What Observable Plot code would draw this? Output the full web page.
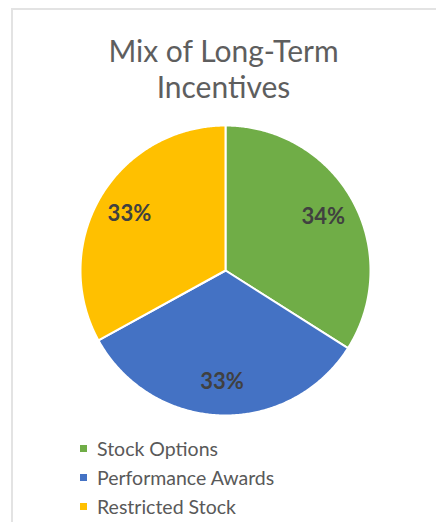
<!DOCTYPE html>
<html>
<head>
<meta charset="utf-8">
<script src="https://cdn.jsdelivr.net/npm/d3@7"></script>
<script src="https://cdn.jsdelivr.net/npm/@observablehq/plot@0.6"></script>
<style>
  html, body { margin: 0; padding: 0; background: #fff; }
  #frame {
    position: relative; width: 436px; height: 522px; overflow: hidden;
    font-family: Lato, "Open Sans", sans-serif; color: #595959;
  }
  #border {
    position: absolute; left: 11px; top: 8px; right: -5px; bottom: -5px;
    border: 2px solid #e3e3e3;
  }
  #title {
    position: absolute; left: 11px; right: 0; top: 32px;
    text-align: center; font-size: 30px; line-height: 36px; color: #5e5e5e;
  }
  #chart { position: absolute; left: 0; top: 110px; }
  #legend { position: absolute; left: 80px; top: 434px; font-size: 19.5px; }
  .item { height: 29px; display: flex; align-items: center; margin: 0; }
  .sw { width: 7px; height: 7px; margin-right: 10px; }
</style>
</head>
<body>
<div id="frame">
  <div id="border"></div>
  <div id="title">Mix of Long-Term<br>Incentives</div>
  <div id="chart"></div>
  <div id="legend"></div>
</div>
<script>
const categories = ["Stock Options", "Performance Awards", "Restricted Stock"];
const values = [34, 33, 33];
const labels = ["34%", "33%", "33%"];
const colors = ["#70AD47", "#4472C4", "#FFC000"];

const data = categories.map((c, i) => ({category: c, value: values[i], label: labels[i]}));
const arcs = d3.pie().sort(null).value(d => d.value)(data);

// polygon points for each slice (angle clockwise from 12 o'clock)
const pts = [];
arcs.forEach(a => {
  const cat = a.data.category;
  pts.push({category: cat, x: 0, y: 0});
  const n = Math.max(2, Math.ceil((a.endAngle - a.startAngle) / (Math.PI / 360)));
  for (let k = 0; k <= n; k++) {
    const t = a.startAngle + (a.endAngle - a.startAngle) * k / n;
    pts.push({category: cat, x: Math.sin(t), y: Math.cos(t)});
  }
  pts.push({category: cat, x: 0, y: 0});
});

const lab = arcs.map(a => {
  const m = (a.startAngle + a.endAngle) / 2;
  const f = 0.77;
  return {label: a.data.label, x: f * Math.sin(m), y: f * Math.cos(m)};
});

const plot = Plot.plot({
  width: 436,
  height: 320,
  margin: 0,
  x: {domain: [-1, 1], range: [80, 370], axis: null},
  y: {domain: [-1, 1], range: [305, 15], axis: null},
  color: {domain: categories, range: colors},
  marks: [
    Plot.line(pts, {x: "x", y: "y", z: "category", fill: "category", stroke: "white", strokeWidth: 2, strokeLinejoin: "round"}),
    Plot.text(lab, {x: "x", y: "y", text: "label", fill: "#404040", fontSize: 22, fontWeight: "bold", fontFamily: "Lato, 'Open Sans', sans-serif"})
  ]
});
document.getElementById("chart").appendChild(plot);

const legend = document.getElementById("legend");
categories.forEach((c, i) => {
  const row = document.createElement("div");
  row.className = "item";
  const sw = document.createElement("span");
  sw.className = "sw";
  sw.style.background = colors[i];
  const tx = document.createElement("span");
  tx.textContent = c;
  row.appendChild(sw); row.appendChild(tx);
  legend.appendChild(row);
});
</script>
</body>
</html>
